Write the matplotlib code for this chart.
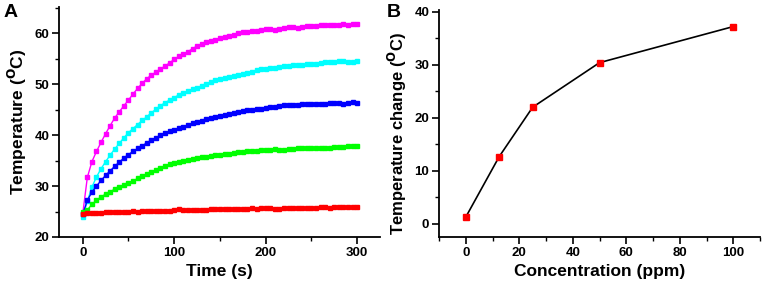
import matplotlib
matplotlib.use("Agg")
import matplotlib.pyplot as plt
from matplotlib.ticker import MultipleLocator

plt.rcParams['font.family'] = ['Liberation Sans', 'DejaVu Sans']
plt.rcParams['font.weight'] = 'bold'
plt.rcParams['mathtext.default'] = 'bf'

# panel A: heating curves, one reading every 5 s
time_s = list(range(0, 305, 5))

temp_magenta = [24.6, 31.7, 34.8, 36.8, 38.6, 40.3, 41.9, 43.4, 44.6, 45.8,
                46.9, 48.1, 49.2, 50.2, 51.1, 51.8, 52.4, 53.0, 53.6, 54.2,
                54.9, 55.5, 55.9, 56.4, 57.0, 57.5, 57.9, 58.3, 58.6, 58.8,
                59.1, 59.3, 59.5, 59.7, 60.0, 60.2, 60.3, 60.4, 60.5, 60.6,
                60.8, 60.9, 60.7, 60.9, 61.1, 61.2, 61.2, 61.0, 61.3, 61.4,
                61.5, 61.5, 61.6, 61.6, 61.6, 61.7, 61.7, 61.8, 61.7, 61.8,
                61.8]
temp_cyan = [24.0, 27.0, 29.8, 31.8, 33.4, 34.8, 36.1, 37.3, 38.4, 39.5,
             40.5, 41.3, 42.1, 42.9, 43.6, 44.4, 45.1, 45.8, 46.4, 46.9,
             47.4, 47.9, 48.3, 48.7, 49.0, 49.3, 49.7, 50.0, 50.4, 50.8,
             51.1, 51.3, 51.5, 51.7, 51.9, 52.0, 52.2, 52.5, 52.8, 53.0,
             53.1, 53.2, 53.3, 53.4, 53.5, 53.6, 53.7, 53.7, 53.8, 53.9,
             54.0, 54.0, 54.2, 54.3, 54.4, 54.4, 54.5, 54.5, 54.4, 54.4,
             54.5]
temp_blue = [24.5, 27.2, 28.8, 30.0, 31.1, 32.1, 33.0, 33.9, 34.7, 35.5,
             36.2, 36.8, 37.4, 37.9, 38.5, 39.0, 39.5, 40.0, 40.4, 40.8,
             41.1, 41.4, 41.7, 42.0, 42.3, 42.5, 42.8, 43.1, 43.4, 43.6,
             43.8, 44.0, 44.2, 44.4, 44.6, 44.8, 44.9, 45.0, 45.1, 45.2,
             45.3, 45.5, 45.6, 45.8, 45.9, 45.9, 46.0, 46.0, 46.1, 46.1,
             46.2, 46.2, 46.2, 46.2, 46.3, 46.3, 46.4, 46.1, 46.4, 46.5,
             46.4]
temp_green = [25.0, 25.3, 26.4, 27.2, 27.9, 28.4, 28.9, 29.4, 29.8, 30.2,
              30.6, 31.0, 31.5, 32.0, 32.4, 32.8, 33.2, 33.6, 34.0, 34.3,
              34.6, 34.8, 35.0, 35.2, 35.4, 35.5, 35.7, 35.8, 36.0, 36.1,
              36.2, 36.3, 36.3, 36.5, 36.7, 36.6, 36.8, 36.8, 36.9, 37.0,
              37.0, 37.1, 37.3, 37.1, 37.1, 37.2, 37.3, 37.4, 37.5, 37.5,
              37.5, 37.5, 37.4, 37.5, 37.5, 37.6, 37.7, 37.7, 37.8, 37.8,
              37.8]
temp_red = [24.6, 24.7, 24.7, 24.8, 24.8, 24.9, 24.9, 24.9, 24.9, 25.0,
            25.0, 25.1, 25.0, 25.1, 25.1, 25.1, 25.1, 25.1, 25.2, 25.2,
            25.3, 25.4, 25.3, 25.3, 25.3, 25.3, 25.3, 25.3, 25.4, 25.5,
            25.4, 25.5, 25.5, 25.5, 25.5, 25.4, 25.5, 25.6, 25.5, 25.6,
            25.6, 25.6, 25.5, 25.5, 25.7, 25.6, 25.6, 25.6, 25.6, 25.6,
            25.6, 25.6, 25.8, 25.8, 25.7, 25.8, 25.9, 25.8, 25.8, 25.8,
            25.8]

# panel B: temperature change vs concentration
conc_ppm = [0, 12.5, 25, 50, 100]
temp_change = [1.3, 12.7, 22.0, 30.4, 37.2]

curves = [
    (temp_magenta, '#ff00ff'),
    (temp_cyan, '#00ffff'),
    (temp_blue, '#0000ff'),
    (temp_green, '#00ff00'),
    (temp_red, '#ff0000'),
]


def style_axes(ax):
    for side in ('top', 'right'):
        ax.spines[side].set_visible(False)
    for side in ('left', 'bottom'):
        ax.spines[side].set_linewidth(1.3)
    ax.tick_params(which='major', direction='out', length=5, width=1.2,
                   labelsize=9.5, pad=2)
    ax.tick_params(which='minor', direction='out', length=3, width=1.0)


fig = plt.figure(figsize=(7.65, 2.89), dpi=100)

axA = fig.add_axes([0.0771, 0.180, 0.4196, 0.796])
for temps, color in curves:
    axA.plot(time_s, temps, '-s', color=color, lw=1.0, ms=2.8, mec=color)
axA.set_xlim(-26, 325)
axA.set_ylim(20, 65.2)
axA.xaxis.set_major_locator(MultipleLocator(100))
axA.xaxis.set_minor_locator(MultipleLocator(50))
axA.yaxis.set_major_locator(MultipleLocator(10))
axA.yaxis.set_minor_locator(MultipleLocator(5))
style_axes(axA)
axA.set_xlabel('Time (s)', fontsize=12.5, fontweight='bold', labelpad=4)
axA.set_ylabel(r'Temperature ($^{O}$C)', fontsize=12.5, fontweight='bold',
               labelpad=4)

axB = fig.add_axes([0.5739, 0.180, 0.4196, 0.785])
axB.plot(conc_ppm, temp_change, '-', color='black', lw=1.2)
axB.plot(conc_ppm, temp_change, 's', color='#ff0000', ms=4.5, mec='#ff0000')
axB.set_xlim(-10, 110)
axB.set_ylim(-2.45, 40.3)
axB.xaxis.set_major_locator(MultipleLocator(20))
axB.xaxis.set_minor_locator(MultipleLocator(10))
axB.yaxis.set_major_locator(MultipleLocator(10))
axB.yaxis.set_minor_locator(MultipleLocator(5))
style_axes(axB)
axB.set_xlabel('Concentration (ppm)', fontsize=12.5, fontweight='bold',
               labelpad=4)
axB.set_ylabel(r'Temperature change ($^{O}$C)', fontsize=12,
               fontweight='bold', labelpad=4)
axB.yaxis.set_label_coords(-0.095, 0.455)

fig.text(0.004, 0.985, 'A', fontsize=14, fontweight='bold', va='top')
fig.text(0.506, 0.985, 'B', fontsize=14, fontweight='bold', va='top')

fig.savefig('out.png', dpi=100)
